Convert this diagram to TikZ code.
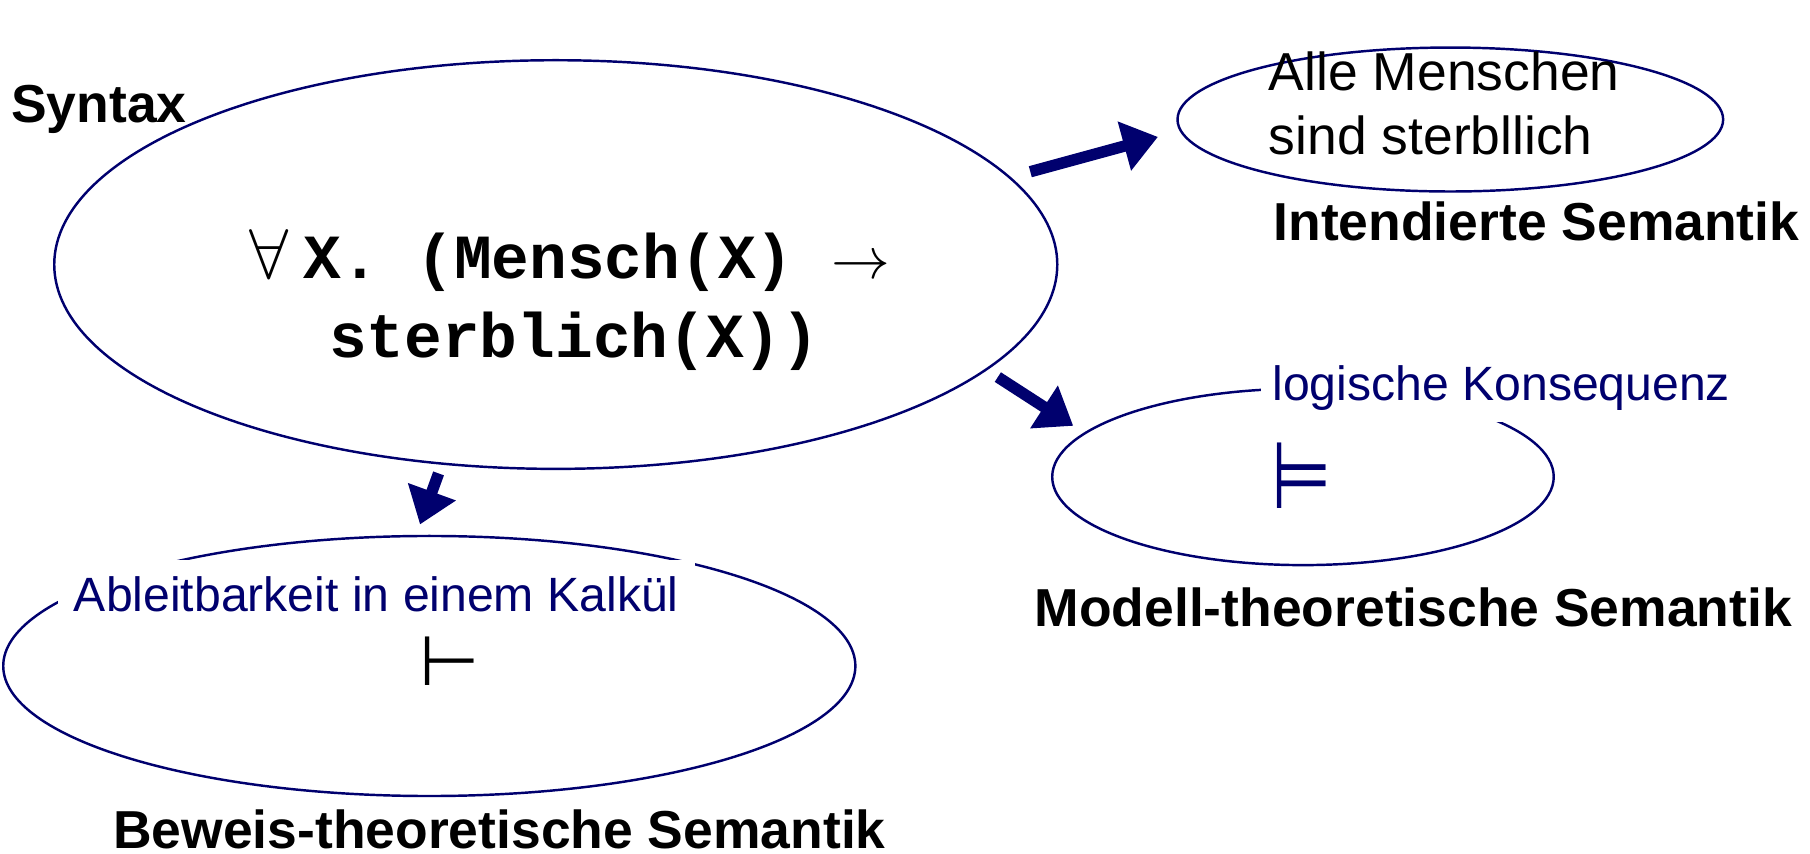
\documentclass[tikz,border=0pt]{standalone}
\usepackage{fontspec}
\usepackage{graphicx}
\setmainfont{Liberation Sans}
\setmonofont{Liberation Mono}
\newfontfamily\symfont{DejaVu Sans}
\usetikzlibrary{shapes.geometric,arrows.meta}
\definecolor{navy}{RGB}{0,0,110}

\begin{document}
\begin{tikzpicture}[x=0.01cm,y=-0.01cm,
                oval/.style={draw=navy,line width=0.6pt,ellipse,inner sep=0pt},
                caption/.style={font=\fontsize{13.1}{15}\selectfont\bfseries,inner sep=0pt,anchor=base west},
                plain/.style={font=\fontsize{13.1}{15}\selectfont,inner sep=0pt,anchor=base west},
                gloss/.style={text=navy,fill=white,font=\fontsize{11.8}{14}\selectfont,inner sep=0.14cm,anchor=base west},
                formula/.style={font=\fontsize{15.4}{18}\selectfont\ttfamily\bfseries,inner sep=0pt,anchor=base west},
                push/.style={navy,line width=2.8pt,-{Triangle[length=0.3cm,width=0.42cm]}}]
    \useasboundingbox (0,0) rectangle (1560,736);
    % ovals
    \node[oval,minimum width=8.64cm,minimum height=3.52cm] (syn) at (479,228) {};
    \node[oval,minimum width=4.70cm,minimum height=1.24cm] (int) at (1250,103) {};
    \node[oval,minimum width=4.32cm,minimum height=1.52cm] (mod) at (1123,411) {};
    \node[oval,minimum width=7.34cm,minimum height=2.24cm] (bew) at (370,574) {};
    % syntax
    \node[caption] (syntax) at (9,106) {Syntax};
    \node[formula] (fa) at (214,240) {{\fontsize{16}{18}\selectfont$\forall$}\kern0.13cm X. (Mensch(X) $\rightarrow$};
    \node[formula] (fb) at (283,308) {sterblich(X))};
    % intended meaning
    \node[plain] (alle) at (1093,78) {Alle Menschen};
    \node[plain] (sind) at (1093,133) {sind sterbllich};
    \node[caption] (intcap) at (1097,207) {Intendierte Semantik};
    % model theory
    \node[gloss,inner sep=0.1cm] (logkon) at (1086,345) {logische Konsequenz};
    \node[text=navy,font=\fontsize{17}{19}\selectfont\symfont] (models) at (1122,410) {\scalebox{1}[1.35]{⊨}};
    \node[caption] (modcap) at (891,540) {Modell-theoretische Semantik};
    % proof theory
    \node[gloss] (ableit) at (49,527) {Ableitbarkeit in einem Kalk\"ul};
    \node[font=\fontsize{17}{19}\selectfont\symfont] (vdash) at (388,570) {⊢};
    \node[caption] (bewcap) at (97,731) {Beweis-theoretische Semantik};
    % arrows
    \coordinate (s1) at (888,148);
    \coordinate (t1) at (998,118);
    \coordinate (s2) at (860,325);
    \coordinate (t2) at (925,367);
    \coordinate (s3) at (378,408);
    \coordinate (t3) at (362,452);
    \draw[push] (s1) -- (t1);
    \draw[push] (s2) -- (t2);
    \draw[push] (s3) -- (t3);
\end{tikzpicture}
\end{document}
